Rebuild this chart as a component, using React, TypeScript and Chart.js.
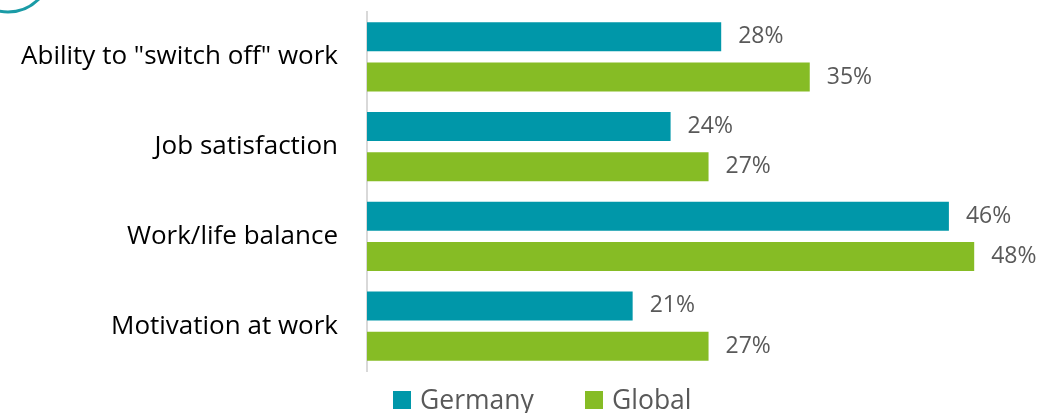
import React, { useEffect, useRef } from "react";
import { Chart, registerables } from "chart.js";

Chart.register(...registerables);

const categories = ['Ability to "switch off" work', "Job satisfaction", "Work/life balance", "Motivation at work"];
const germanyValues = [28, 24, 46, 21];
const globalValues = [35, 27, 48, 27];
const seriesNames = ["Germany", "Global"];
const seriesColors = ["#0097A9", "#86BC25"];
const xMin = 0;
const xMax = 50;

const FONT = "'Open Sans', 'Noto Sans', sans-serif";

const valueLabelPlugin = {
  id: "valueLabels",
  afterDatasetsDraw(chart: any) {
    const ctx = chart.ctx;
    ctx.save();
    ctx.font = `23px ${FONT}`;
    ctx.fillStyle = "#595959";
    ctx.textAlign = "left";
    ctx.textBaseline = "middle";
    chart.data.datasets.forEach((ds: any, di: number) => {
      const meta = chart.getDatasetMeta(di);
      meta.data.forEach((el: any, i: number) => {
        ctx.fillText(`${ds.data[i]}%`, el.x + 17, el.y);
      });
    });
    ctx.restore();
  },
};

const legendPlugin = {
  id: "customLegend",
  afterDraw(chart: any) {
    const ctx = chart.ctx;
    ctx.save();
    ctx.font = `26.5px ${FONT}`;
    ctx.textBaseline = "middle";
    ctx.textAlign = "left";
    const starts = [393, 585];
    const yc = 400;
    chart.data.datasets.forEach((ds: any, i: number) => {
      const x = starts[i];
      ctx.fillStyle = ds.backgroundColor;
      ctx.fillRect(x, yc - 9, 18, 18);
      ctx.fillStyle = "#595959";
      ctx.fillText(ds.label, x + 27, yc + 1);
    });
    ctx.restore();
  },
};

const decorationPlugin = {
  id: "cornerArc",
  beforeDraw(chart: any) {
    const ctx = chart.ctx;
    ctx.save();
    ctx.strokeStyle = "#1A9BA6";
    ctx.lineWidth = 3;
    ctx.beginPath();
    ctx.arc(8, -31, 43, 0, Math.PI * 2);
    ctx.stroke();
    ctx.restore();
  },
};

export default function App() {
  const canvasRef = useRef<HTMLCanvasElement | null>(null);

  useEffect(() => {
    if (!canvasRef.current) return;
    const chart = new Chart(canvasRef.current, {
      type: "bar",
      data: {
        labels: categories,
        datasets: [
          {
            label: seriesNames[0],
            data: germanyValues,
            backgroundColor: seriesColors[0],
            barPercentage: 0.716,
            categoryPercentage: 0.9,
          },
          {
            label: seriesNames[1],
            data: globalValues,
            backgroundColor: seriesColors[1],
            barPercentage: 0.716,
            categoryPercentage: 0.9,
          },
        ],
      },
      options: {
        indexAxis: "y",
        animation: false,
        responsive: true,
        maintainAspectRatio: false,
        layout: { padding: { top: 12, bottom: 42, left: 0, right: 41.5 } },
        plugins: {
          legend: { display: false },
          tooltip: { enabled: false },
        },
        scales: {
          x: { display: false, min: xMin, max: xMax },
          y: {
            grid: { display: false, drawTicks: false },
            border: { display: true, color: "#D9D9D9", width: 2 },
            ticks: {
              color: "#000000",
              padding: 29,
              font: { family: FONT, size: 26 },
            },
            afterFit(scale: any) {
              scale.width = 367;
              scale.paddingTop = 0;
              scale.paddingBottom = 0;
            },
          },
        },
      },
      plugins: [decorationPlugin, valueLabelPlugin, legendPlugin],
    } as any);
    return () => chart.destroy();
  }, []);

  return (
    <div style={{ position: "absolute", left: 0, top: 0, width: 1041, height: 413 }}>
      <canvas ref={canvasRef} />
    </div>
  );
}
